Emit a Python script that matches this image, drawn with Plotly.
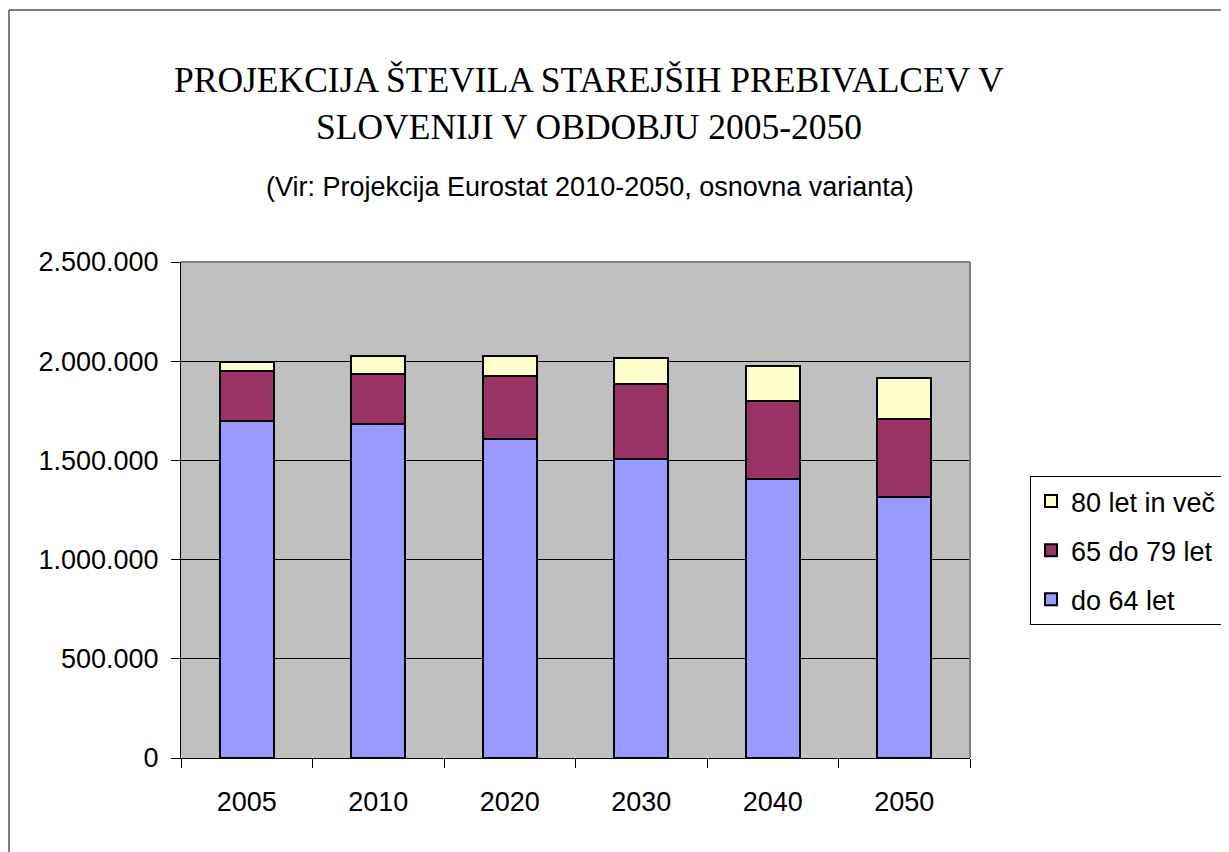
import plotly.graph_objects as go

# ---- data ----
years = ["2005", "2010", "2020", "2030", "2040", "2050"]
do_64 = [1698000, 1685000, 1608000, 1506000, 1406000, 1317000]
od_65_do_79 = [252000, 251000, 318000, 380000, 393000, 390000]
nad_80 = [48000, 91000, 101000, 131000, 176000, 206000]
series_names = ["do 64 let", "65 do 79 let", "80 let in več"]
series_colors = ["#9999FF", "#993366", "#FFFFCC"]
legend_ranks = [3, 2, 1]
y_ticks = [0, 500000, 1000000, 1500000, 2000000, 2500000]

title_1 = "PROJEKCIJA ŠTEVILA STAREJŠIH PREBIVALCEV V"
title_2 = "SLOVENIJI V OBDOBJU 2005-2050"
subtitle = "(Vir: Projekcija Eurostat 2010-2050, osnovna varianta)"

# ---- layout geometry (screen pixels; page body adds an 8px offset) ----
OFF = 8
W, H = 1229, 852
L, R, T, B = 181, 970, 262, 758


def px(xp):
    return (xp - L) / (R - L)


def py(yp):
    return (B - yp) / (B - T)


fig = go.Figure()
for name, vals, col, rk in zip(series_names, [do_64, od_65_do_79, nad_80],
                               series_colors, legend_ranks):
    fig.add_trace(go.Bar(
        x=years, y=vals, name=name, legendgroup=name, legendrank=rk,
        marker=dict(color=col, line=dict(color="black", width=2)),
        width=0.41,
    ))

SANS = "Liberation Sans, Arial, sans-serif"
SERIF = "Liberation Serif, Times New Roman, serif"
FS = 27

fig.update_layout(
    width=W, height=H,
    barmode="stack",
    separators=",.",
    paper_bgcolor="white",
    plot_bgcolor="#C0C0C0",
    margin=dict(l=L - OFF, r=W - (R - OFF), t=T - OFF, b=H - (B - OFF),
                autoexpand=False),
    font=dict(family=SANS, size=FS, color="black"),
    showlegend=True,
    legend=dict(
        x=px(1030), y=py(476), xanchor="left", yanchor="top",
        bordercolor="black", borderwidth=1, bgcolor="white",
        traceorder="grouped", tracegroupgap=11,
        font=dict(family=SANS, size=FS, color="black"),
    ),
    xaxis=dict(
        type="category", tickson="boundaries", ticks="outside", ticklen=9,
        tickcolor="black", showline=True, linecolor="black", linewidth=1,
        showgrid=False, ticklabelstandoff=20,
        tickfont=dict(family=SANS, size=FS),
    ),
    yaxis=dict(
        range=[0, 2500000], tickvals=y_ticks, tickformat=",d",
        ticks="outside", ticklen=9, tickcolor="black",
        showline=True, linecolor="black", linewidth=1,
        showgrid=True, gridcolor="black", gridwidth=1,
        zeroline=False, ticklabelstandoff=7,
        tickfont=dict(family=SANS, size=FS),
    ),
    annotations=[
        dict(text=title_1, x=px(589), y=py(80), xref="paper", yref="paper",
             showarrow=False, xanchor="center", yanchor="middle",
             font=dict(family=SERIF, size=35.5, color="black")),
        dict(text=title_2, x=px(589), y=py(127), xref="paper", yref="paper",
             showarrow=False, xanchor="center", yanchor="middle",
             font=dict(family=SERIF, size=35.5, color="black")),
        dict(text=subtitle, x=px(590), y=py(187), xref="paper", yref="paper",
             showarrow=False, xanchor="center", yanchor="middle",
             font=dict(family=SANS, size=FS, color="black")),
    ],
    shapes=[
        # plot area border (top and right, gray)
        dict(type="line", xref="paper", yref="paper", x0=0, x1=1, y0=1, y1=1,
             line=dict(color="#808080", width=2)),
        dict(type="line", xref="paper", yref="paper", x0=1, x1=1, y0=0, y1=1,
             line=dict(color="#808080", width=2)),
        # outer chart border
        dict(type="line", xref="paper", yref="paper", x0=px(9), x1=px(1240),
             y0=py(10), y1=py(10), line=dict(color="black", width=1)),
        dict(type="line", xref="paper", yref="paper", x0=px(9), x1=px(9),
             y0=py(10), y1=py(870), line=dict(color="black", width=1)),
    ],
)

fig.write_html("out.html")
